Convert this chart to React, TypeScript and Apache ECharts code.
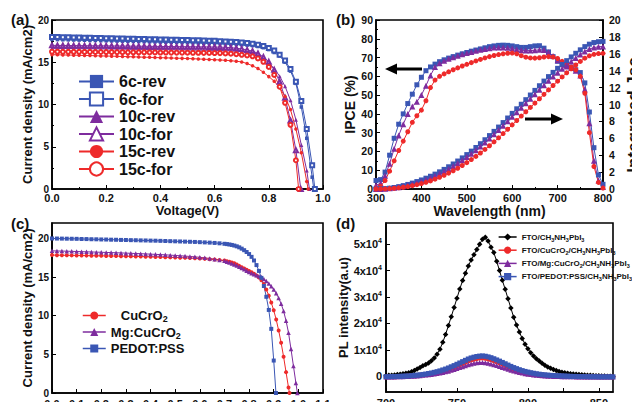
import React, { useEffect, useRef } from 'react';
import * as echarts from 'echarts';

const FONT = '"Liberation Sans", Arial, Helvetica, sans-serif';
const BLUE = '#3A56B4';
const PURPLE = '#7E2C9E';
const RED = '#EE2A2A';
const INK = '#111';

// ---------- (a) J-V, 6c / 10c / 15c ----------
const aNames = ['6c-rev', '6c-for', '10c-rev', '10c-for', '15c-rev', '15c-for'];
const vA = [0, 0.02, 0.04, 0.06, 0.08, 0.1, 0.12, 0.14, 0.16, 0.18, 0.2, 0.22, 0.24, 0.26, 0.28, 0.3, 0.32, 0.34, 0.36, 0.38,
  0.4, 0.42, 0.44, 0.46, 0.48, 0.5, 0.52, 0.54, 0.56, 0.58, 0.6, 0.62, 0.64, 0.66, 0.68, 0.7, 0.72, 0.74, 0.76, 0.78,
  0.8, 0.82, 0.84, 0.86, 0.88, 0.9, 0.92, 0.94, 0.96];
const j6cRev = [17.70, 17.68, 17.66, 17.65, 17.63, 17.62, 17.60, 17.58, 17.57, 17.55, 17.54, 17.52, 17.50, 17.49, 17.47, 17.46, 17.44, 17.43, 17.41, 17.40,
  17.38, 17.37, 17.35, 17.34, 17.32, 17.31, 17.29, 17.27, 17.25, 17.23, 17.21, 17.19, 17.16, 17.13, 17.10, 17.06, 17.02, 16.96, 16.86, 16.72,
  16.50, 16.15, 15.75, 15.00, 13.95, 12.50, 9.70, 6.00, 1.40];
const j6cFor = [18.00, 17.98, 17.97, 17.95, 17.94, 17.92, 17.91, 17.89, 17.88, 17.86, 17.85, 17.83, 17.82, 17.80, 17.79, 17.77, 17.76, 17.74, 17.73, 17.71,
  17.70, 17.68, 17.67, 17.65, 17.64, 17.62, 17.61, 17.59, 17.57, 17.55, 17.53, 17.50, 17.47, 17.44, 17.40, 17.35, 17.29, 17.20, 17.08, 16.92,
  16.70, 16.38, 15.90, 15.20, 14.20, 12.70, 10.40, 7.10, 2.80];
const j10cRev = [16.65, 16.64, 16.63, 16.63, 16.62, 16.61, 16.60, 16.60, 16.59, 16.58, 16.57, 16.57, 16.56, 16.55, 16.54, 16.53, 16.53, 16.52, 16.51, 16.50,
  16.49, 16.49, 16.48, 16.47, 16.46, 16.45, 16.44, 16.43, 16.42, 16.41, 16.40, 16.39, 16.37, 16.34, 16.30, 16.25, 16.18, 16.08, 15.85, 15.48,
  14.90, 14.25, 13.35, 12.15, 10.50, 8.20, 5.20, 2.20];
const j10cFor = [17.00, 16.99, 16.99, 16.98, 16.97, 16.97, 16.96, 16.95, 16.95, 16.94, 16.94, 16.93, 16.92, 16.92, 16.91, 16.90, 16.90, 16.89, 16.88, 16.88,
  16.87, 16.86, 16.86, 16.85, 16.84, 16.84, 16.83, 16.82, 16.82, 16.81, 16.80, 16.79, 16.76, 16.72, 16.66, 16.58, 16.46, 16.32, 16.05, 15.62,
  15.05, 14.10, 12.70, 10.80, 8.10, 4.60];
const j15cRev = [15.90, 15.88, 15.87, 15.85, 15.84, 15.82, 15.80, 15.79, 15.77, 15.75, 15.74, 15.72, 15.70, 15.68, 15.66, 15.64, 15.62, 15.60, 15.58, 15.56,
  15.54, 15.52, 15.50, 15.48, 15.46, 15.44, 15.42, 15.39, 15.36, 15.33, 15.30, 15.27, 15.23, 15.18, 15.12, 15.04, 14.85, 14.58, 14.25, 13.82,
  13.30, 12.75, 12.00, 10.95, 9.40, 7.10, 4.30, 0.90];
const j15cFor = [16.25, 16.25, 16.24, 16.24, 16.23, 16.23, 16.22, 16.22, 16.21, 16.21, 16.20, 16.20, 16.19, 16.19, 16.18, 16.18, 16.17, 16.17, 16.16, 16.16,
  16.15, 16.15, 16.14, 16.14, 16.13, 16.13, 16.12, 16.12, 16.11, 16.10, 16.09, 16.08, 16.05, 16.01, 15.95, 15.88, 15.80, 15.70, 15.45, 15.05,
  14.45, 13.50, 12.10, 10.20, 7.60, 3.40];
const vocA = [0.966, 0.970, 0.950, 0.918, 0.945, 0.910];

// ---------- (b) IPCE & integrated Jsc ----------
const wlB = [300, 310, 320, 330, 340, 350, 360, 370, 380, 390, 400, 410, 420, 430, 440, 450, 460, 470, 480, 490,
  500, 510, 520, 530, 540, 550, 560, 570, 580, 590, 600, 610, 620, 630, 640, 650, 660, 670, 680, 690,
  700, 710, 720, 730, 740, 750, 760, 770, 780, 790, 800];
const ipceBlue = [4.5, 5, 9, 18, 27, 34.5, 40, 45.5, 50.5, 55.5, 59.5, 63, 65, 66.5, 67.8, 68.8, 69.7, 70.5, 71.3, 72,
  72.7, 73.4, 74, 74.6, 75.2, 75.8, 76.2, 76.5, 76.6, 76.5, 76.2, 75.8, 75.4, 75.4, 75.8, 76.2, 76.3, 75, 73, 70.5,
  68, 66.5, 65.5, 64.8, 63.5, 62, 56.5, 41, 22, 7.5, 2.5];
const ipcePurple = [2, 3, 7, 13.5, 21.5, 28.5, 34.5, 40, 44, 46.5, 50, 55, 60.5, 65, 67, 68.3, 69.3, 70.2, 71, 71.7,
  72.4, 73, 73.6, 74.1, 74.6, 75, 75.3, 75.4, 75.4, 75.2, 74.8, 74.3, 73.9, 73.7, 73.7, 73.9, 74.1, 74, 72.8, 70.8,
  68.5, 66.5, 65.3, 64.5, 63, 60.5, 53, 35, 15, 4.5, 1];
const ipceRed = [0.5, 1.5, 4.5, 9.5, 15, 20.5, 25.5, 30.5, 35.5, 39, 42, 47, 54, 58, 60, 61.3, 62.4, 63.5, 64.5, 65.5,
  66.4, 67.3, 68.2, 69, 69.8, 70.5, 71.1, 71.6, 72, 72.3, 72.4, 72, 71, 70.2, 69.8, 69.7, 69.9, 70.3, 70.5, 70.3,
  69.5, 68, 66.5, 65, 63.5, 60, 51, 30, 12, 3.5, 0.5];
const jscBlue = [0.00, 0.02, 0.05, 0.10, 0.18, 0.28, 0.40, 0.54, 0.70, 0.88, 1.07, 1.28, 1.51, 1.76, 2.03, 2.32, 2.63, 2.96, 3.31, 3.68,
  4.07, 4.48, 4.91, 5.36, 5.83, 6.32, 6.82, 7.33, 7.86, 8.40, 8.95, 9.49, 10.03, 10.57, 11.12, 11.67, 12.22, 12.77, 13.30, 13.80,
  14.28, 14.74, 15.19, 15.63, 16.06, 16.47, 16.85, 17.14, 17.33, 17.43, 17.47];
const jscPurple = [0.00, 0.01, 0.04, 0.08, 0.14, 0.22, 0.32, 0.44, 0.58, 0.73, 0.90, 1.09, 1.30, 1.54, 1.80, 2.08, 2.38, 2.70, 3.04, 3.40,
  3.78, 4.18, 4.60, 5.04, 5.50, 5.98, 6.47, 6.97, 7.49, 8.02, 8.55, 9.08, 9.61, 10.14, 10.67, 11.21, 11.75, 12.29, 12.81, 13.30,
  13.77, 14.22, 14.66, 15.09, 15.51, 15.91, 16.28, 16.56, 16.74, 16.83, 16.87];
const jscRed = [0.00, 0.01, 0.02, 0.05, 0.09, 0.14, 0.21, 0.29, 0.39, 0.51, 0.64, 0.79, 0.96, 1.16, 1.38, 1.62, 1.88, 2.16, 2.46, 2.78,
  3.12, 3.48, 3.86, 4.26, 4.68, 5.12, 5.58, 6.06, 6.56, 7.07, 7.59, 8.11, 8.63, 9.14, 9.65, 10.16, 10.68, 11.20, 11.73, 12.25,
  12.76, 13.26, 13.75, 14.22, 14.67, 15.10, 15.48, 15.76, 15.94, 16.03, 16.06];

// ---------- (c) J-V, HTL comparison ----------
const cNames = ['CuCrO2', 'Mg:CuCrO2', 'PEDOT:PSS'];
const vC = [0, 0.02, 0.04, 0.06, 0.08, 0.1, 0.12, 0.14, 0.16, 0.18, 0.2, 0.22, 0.24, 0.26, 0.28, 0.3, 0.32, 0.34, 0.36, 0.38,
  0.4, 0.42, 0.44, 0.46, 0.48, 0.5, 0.52, 0.54, 0.56, 0.58, 0.6, 0.62, 0.64, 0.66, 0.68, 0.7,
  0.71, 0.72, 0.73, 0.74, 0.75, 0.76, 0.77, 0.78, 0.79, 0.8, 0.81, 0.82, 0.83, 0.84, 0.85, 0.86, 0.87, 0.88, 0.89, 0.9,
  0.91, 0.92, 0.93, 0.94, 0.95, 0.96, 0.97, 0.98, 0.99, 1.0];
const jCu = [17.85, 17.84, 17.83, 17.82, 17.81, 17.80, 17.79, 17.78, 17.77, 17.76, 17.75, 17.74, 17.73, 17.72, 17.71, 17.70, 17.68, 17.67, 17.66, 17.64,
  17.63, 17.61, 17.59, 17.57, 17.55, 17.53, 17.51, 17.49, 17.46, 17.43, 17.40, 17.36, 17.32, 17.27, 17.21, 17.14,
  17.05, 16.98, 16.89, 16.78, 16.63, 16.45, 16.28, 16.10, 15.95, 15.80, 15.62, 15.42, 15.20, 14.95, 14.60, 14.10, 13.40, 12.60, 11.70, 10.70,
  9.50, 8.10, 6.50, 4.70, 2.70, 0.70];
const jMg = [18.40, 18.38, 18.37, 18.35, 18.33, 18.31, 18.29, 18.27, 18.25, 18.23, 18.21, 18.19, 18.17, 18.15, 18.13, 18.10, 18.08, 18.05, 18.03, 18.00,
  17.97, 17.94, 17.91, 17.88, 17.84, 17.80, 17.76, 17.72, 17.67, 17.62, 17.56, 17.49, 17.41, 17.32, 17.22, 17.10,
  16.98, 16.88, 16.76, 16.64, 16.50, 16.35, 16.18, 16.00, 15.82, 15.65, 15.50, 15.37, 15.25, 15.12, 15.00, 14.76, 14.49, 14.18, 13.82, 13.40,
  12.90, 12.30, 11.55, 10.60, 9.35, 7.80, 5.70, 3.50, 1.30];
const jPedot = [20.00, 19.99, 19.98, 19.97, 19.96, 19.95, 19.93, 19.92, 19.90, 19.89, 19.87, 19.86, 19.84, 19.83, 19.81, 19.80, 19.78, 19.77, 19.75, 19.74,
  19.72, 19.71, 19.69, 19.67, 19.65, 19.63, 19.61, 19.59, 19.57, 19.55, 19.52, 19.49, 19.46, 19.42, 19.37, 19.31,
  19.27, 19.22, 19.16, 19.08, 18.98, 18.85, 18.68, 18.48, 18.25, 17.98, 17.62, 17.15, 16.55, 15.80, 14.90, 13.85, 12.45, 10.75, 8.30, 4.20];
const vocC = [0.964, 0.996, 0.909];

// ---------- (d) PL ----------
const dNames = ['FTO/CH3NH3PbI3', 'FTO/CuCrO2/CH3NH3PbI3', 'FTO/Mg:CuCrO2/CH3NH3PbI3', 'FTO/PEDOT:PSS/CH3NH3PbI3'];
const wlD = [700, 702, 704, 706, 708, 710, 712, 714, 716, 718, 720, 722, 724, 726, 728, 730, 732, 734, 736, 738,
  740, 742, 744, 746, 748, 750, 752, 754, 756, 758, 760, 762, 764, 766, 768, 770, 772, 774, 776, 778,
  780, 782, 784, 786, 788, 790, 792, 794, 796, 798, 800, 802, 804, 806, 808, 810, 812, 814, 816, 818,
  820, 822, 824, 826, 828, 830, 832, 834, 836, 838, 840, 842, 844, 846, 848, 850, 852, 854, 856, 858, 860];
const plBlack = [200, 300, 350, 450, 600, 750, 900, 1100, 1300, 1700, 2100, 2700, 3300, 3900, 4400, 5000, 5800, 6900, 8300, 10200,
  12800, 15800, 19200, 22500, 26000, 29500, 33000, 36200, 39000, 41700, 44000, 46000, 48000, 50000, 51800, 52600, 51200, 48800, 46800, 43500,
  40000, 36300, 32900, 29300, 25800, 22300, 19400, 16700, 14300, 12100, 10400, 8900, 7600, 6600, 5700, 4900, 4100, 3500, 3000, 2500,
  2100, 1800, 1500, 1300, 1100, 900, 800, 700, 600, 500, 400, 350, 300, 250, 200, 150, 100, 50, 0, -50, -100];
const plRed = [-300, -300, -250, -250, -200, -150, -100, -50, 50, 100, 200, 300, 400, 500, 650, 800, 1000, 1200, 1450, 1700,
  2000, 2300, 2650, 3050, 3450, 3900, 4350, 4800, 5250, 5700, 6100, 6400, 6650, 6800, 6850, 6750, 6500, 6200, 5800, 5400,
  5000, 4550, 4100, 3650, 3250, 2850, 2500, 2150, 1850, 1550, 1300, 1100, 900, 750, 600, 450, 350, 250, 200, 100,
  50, 0, -50, -100, -100, -150, -150, -200, -200, -200, -250, -250, -250, -250, -300, -300, -300, -300, -300, -300, -300];
const plPurple = [-350, -350, -300, -300, -250, -250, -200, -150, -100, -50, 0, 100, 200, 300, 400, 500, 650, 800, 1000, 1200,
  1400, 1650, 1900, 2200, 2550, 2900, 3250, 3600, 3950, 4300, 4600, 4850, 5050, 5150, 5200, 5100, 4900, 4650, 4350, 4000,
  3650, 3300, 2950, 2600, 2250, 1950, 1650, 1400, 1150, 950, 750, 600, 450, 350, 250, 150, 100, 0, -50, -100,
  -150, -150, -200, -200, -250, -250, -250, -300, -300, -300, -300, -300, -350, -350, -350, -350, -350, -350, -350, -350, -350];
const plBlue = [-200, -200, -150, -150, -100, -50, 0, 50, 100, 200, 300, 400, 500, 650, 800, 1000, 1200, 1450, 1700, 2000,
  2350, 2700, 3100, 3550, 4000, 4500, 5000, 5500, 6000, 6500, 6900, 7200, 7450, 7600, 7650, 7550, 7300, 7000, 6600, 6150,
  5700, 5200, 4700, 4200, 3700, 3250, 2850, 2450, 2100, 1800, 1550, 1300, 1100, 900, 750, 600, 500, 400, 300, 250,
  200, 150, 100, 50, 0, -50, -100, -100, -150, -150, -150, -200, -200, -200, -200, -250, -250, -250, -250, -250, -250];

// ---------- tick label lists ----------
const dXLabels = [700, 750, 800, 850];
const dXTicks = [700, 725, 750, 775, 800, 825, 850];
const dYLabels = [0, 10000, 20000, 30000, 40000, 50000];
const cYLabels = [0, 5, 10, 15, 20];

const jv = (v: number[], j: number[], voc: number) => [...j.map((y, i) => [v[i], y]), [voc, 0]];
const pairs = (x: number[], y: number[]) => y.map((v, i) => [x[i], v]);

const lbl = { color: INK, fontFamily: FONT, fontWeight: 'bold' as const };

function axisBase(extra: any = {}) {
  return {
    type: 'value',
    axisLine: { show: true, onZero: false, lineStyle: { color: '#000', width: 1.6 } },
    axisTick: { show: true, inside: true, length: 4, lineStyle: { color: '#000', width: 1 } },
    minorTick: { show: false },
    splitLine: { show: false },
    minorSplitLine: { show: false },
    axisLabel: { ...lbl, fontSize: 11, margin: 4 },
    nameTextStyle: { ...lbl, fontSize: 13 },
    ...extra,
  };
}

const minor = { show: true, splitNumber: 2, length: 2, lineStyle: { color: '#000', width: 1 } };

function lineSeries(name: string, xi: number, yi: number, data: any[], color: string, symbol: string, size: number, z = 2) {
  const empty = symbol.startsWith('empty');
  return {
    name, type: 'line', xAxisIndex: xi, yAxisIndex: yi, data, symbol, symbolSize: size,
    showAllSymbol: true, z, color,
    lineStyle: { width: 1, color },
    itemStyle: empty ? { color, borderColor: color, borderWidth: 1 } : { color },
    emphasis: { disabled: true },
  };
}

const subRich = (fs: number) => ({
  s: { fontSize: fs, fontWeight: 'bold', fontFamily: FONT, color: INK, verticalAlign: 'bottom' },
  pad: { width: 10 },
});

export default function App() {
  const ref = useRef<HTMLDivElement>(null);
  useEffect(() => {
    if (!ref.current) return;
    const chart = echarts.init(ref.current, null, { renderer: 'svg' });
    const gridBase = { show: true, borderColor: '#000', borderWidth: 1.6, backgroundColor: 'transparent', containLabel: false, outerBoundsMode: 'none' };
    const titleText = (text: string, x: number, y: number) => ({
      type: 'text', x, y, z: 10,
      style: { text, fontSize: 15, fontWeight: 'bold', fontFamily: FONT, fill: INK, align: 'left', verticalAlign: 'middle' },
    });
    const option: any = {
      animation: false,
      textStyle: { fontFamily: FONT },
      grid: [
        { ...gridBase, left: 52, top: 20, width: 271, height: 169 },
        { ...gridBase, left: 376, top: 20, width: 227, height: 169 },
        { ...gridBase, left: 52, top: 223, width: 271, height: 170 },
        { ...gridBase, left: 386, top: 223, width: 227, height: 169 },
      ],
      xAxis: [
        axisBase({ gridIndex: 0, min: 0, max: 1, interval: 0.2, minorTick: minor, name: 'Voltage(V)', nameLocation: 'middle', nameGap: 14,
          axisLabel: { ...lbl, fontSize: 11, margin: 3, formatter: (v: number) => v.toFixed(1) } }),
        axisBase({ gridIndex: 1, min: 300, max: 800, interval: 100, minorTick: minor, name: 'Wavelength (nm)', nameLocation: 'middle', nameGap: 13,
          nameTextStyle: { ...lbl, fontSize: 14 }, axisLabel: { ...lbl, fontSize: 11, margin: 3 } }),
        axisBase({ gridIndex: 2, min: 0, max: 1.1, interval: 0.1,
          axisLabel: { ...lbl, fontSize: 11, margin: 5, formatter: (v: number) => v.toFixed(1) } }),
        axisBase({ gridIndex: 3, min: 700, max: 860,
          axisLabel: { ...lbl, fontSize: 11, margin: 5, customValues: dXLabels },
          axisTick: { show: true, inside: true, length: 4, lineStyle: { color: '#000', width: 1 }, customValues: dXTicks } }),
      ],
      yAxis: [
        axisBase({ gridIndex: 0, min: 0, max: 20, interval: 5, minorTick: minor, name: 'Current density (mA/cm2)', nameLocation: 'middle', nameGap: 10,
          axisLabel: { ...lbl, fontSize: 10, margin: 3 } }),
        axisBase({ gridIndex: 1, min: 0, max: 90, interval: 10, minorTick: minor, name: 'IPCE (%)', nameLocation: 'middle', nameGap: 18,
          nameTextStyle: { ...lbl, fontSize: 14 }, axisLabel: { ...lbl, fontSize: 10.5, margin: 3 } }),
        axisBase({ gridIndex: 1, position: 'right', min: 0, max: 20, interval: 2,
          axisLabel: { ...lbl, fontSize: 10.5, margin: 6 } }),
        axisBase({ gridIndex: 2, min: 0, max: 22, name: 'Current density (mA/cm2)', nameLocation: 'middle', nameGap: 10,
          axisLabel: { ...lbl, fontSize: 10, margin: 3, customValues: cYLabels },
          axisTick: { show: true, inside: true, length: 4, lineStyle: { color: '#000', width: 1 }, customValues: cYLabels } }),
        axisBase({ gridIndex: 3, min: -6000, max: 58000, name: 'PL intensity(a.u)', nameLocation: 'middle', nameGap: 31,
          axisLabel: { ...lbl, fontSize: 11, margin: 4, lineHeight: 14, customValues: dYLabels,
            formatter: (v: number) => (v === 0 ? '0' : `${Math.round(v / 10000)}x10{sup|4}`),
            rich: { sup: { fontSize: 7, fontWeight: 'bold', fontFamily: FONT, color: INK, verticalAlign: 'top' } } },
          axisTick: { show: true, inside: true, length: 4, lineStyle: { color: '#000', width: 1 }, customValues: dYLabels } }),
      ],
      legend: [
        {
          data: aNames, orient: 'vertical', left: 78, top: 73.5, padding: 0,
          itemWidth: 35, itemHeight: 16.5, itemGap: 1.5, selectedMode: false,
          lineStyle: { width: 2 },
          textStyle: { ...lbl, fontSize: 16 },
        },
        {
          data: cNames, orient: 'vertical', left: 82, top: 307.5, padding: 0,
          itemWidth: 23, itemHeight: 10, itemGap: 0.5, selectedMode: false,
          lineStyle: { width: 1.5 },
          textStyle: { ...lbl, fontSize: 13, lineHeight: 16, rich: subRich(9) },
          formatter: (n: string) => (n === 'CuCrO2' ? '{pad| }CuCrO{s|2}' : n.replace(/(\d)/g, '{s|$1}')),
        },
        {
          data: dNames, orient: 'vertical', right: 0, top: 231.5, padding: 0, align: 'left',
          itemWidth: 18, itemHeight: 9, itemGap: 2.2, selectedMode: false,
          lineStyle: { width: 1.5 },
          textStyle: { ...lbl, fontSize: 8, lineHeight: 11, rich: subRich(5.5) },
          formatter: (n: string) => n.replace(/(\d)/g, '{s|$1}'),
        },
      ],
      series: [
        lineSeries(aNames[0], 0, 0, jv(vA, j6cRev, vocA[0]), BLUE, 'rect', 3.5),
        lineSeries(aNames[1], 0, 0, jv(vA, j6cFor, vocA[1]), BLUE, 'emptyRect', 4),
        lineSeries(aNames[2], 0, 0, jv(vA, j10cRev, vocA[2]), PURPLE, 'triangle', 4),
        lineSeries(aNames[3], 0, 0, jv(vA, j10cFor, vocA[3]), PURPLE, 'emptyTriangle', 4),
        lineSeries(aNames[4], 0, 0, jv(vA, j15cRev, vocA[4]), RED, 'circle', 3.5),
        lineSeries(aNames[5], 0, 0, jv(vA, j15cFor, vocA[5]), RED, 'emptyCircle', 4),

        lineSeries('IPCE PEDOT:PSS', 1, 1, pairs(wlB, ipceBlue), BLUE, 'rect', 5),
        lineSeries('IPCE Mg:CuCrO2', 1, 1, pairs(wlB, ipcePurple), PURPLE, 'triangle', 6),
        lineSeries('IPCE CuCrO2', 1, 1, pairs(wlB, ipceRed), RED, 'circle', 5),
        lineSeries('Jsc PEDOT:PSS', 1, 2, pairs(wlB, jscBlue), BLUE, 'rect', 5),
        lineSeries('Jsc Mg:CuCrO2', 1, 2, pairs(wlB, jscPurple), PURPLE, 'triangle', 6),
        lineSeries('Jsc CuCrO2', 1, 2, pairs(wlB, jscRed), RED, 'circle', 5),

        lineSeries(cNames[0], 2, 3, jv(vC, jCu, vocC[0]), RED, 'circle', 4),
        lineSeries(cNames[1], 2, 3, jv(vC, jMg, vocC[1]), PURPLE, 'triangle', 4.5),
        lineSeries(cNames[2], 2, 3, jv(vC, jPedot, vocC[2]), BLUE, 'rect', 4),

        lineSeries(dNames[0], 3, 4, pairs(wlD, plBlack), '#000', 'diamond', 5.5),
        lineSeries(dNames[1], 3, 4, pairs(wlD, plRed), RED, 'circle', 5),
        lineSeries(dNames[2], 3, 4, pairs(wlD, plPurple), PURPLE, 'triangle', 5),
        lineSeries(dNames[3], 3, 4, pairs(wlD, plBlue), BLUE, 'rect', 5),
      ],
      graphic: [
        titleText('(a)', 11, 19),
        titleText('(b)', 336, 19),
        titleText('(c)', 11, 223),
        titleText('(d)', 336, 223),
        {
          type: 'text', x: 633, y: 115, rotation: Math.PI / 2, z: 10,
          style: { text: 'Integrated Jsc', fontSize: 17, fontWeight: 'bold', fontFamily: FONT, fill: INK, align: 'center', verticalAlign: 'middle' },
        },
        { type: 'line', shape: { x1: 395, y1: 69, x2: 422, y2: 69 }, style: { stroke: '#000', lineWidth: 3 } },
        { type: 'polygon', shape: { points: [[385, 69], [397, 63.5], [397, 74.5]] }, style: { fill: '#000' } },
        { type: 'line', shape: { x1: 525, y1: 119, x2: 553, y2: 119 }, style: { stroke: '#000', lineWidth: 3 } },
        { type: 'polygon', shape: { points: [[563, 119], [551, 113.5], [551, 124.5]] }, style: { fill: '#000' } },
      ],
    };
    chart.setOption(option);
    return () => chart.dispose();
  }, []);
  return <div ref={ref} style={{ position: 'absolute', left: 0, top: 0, width: 632, height: 402, background: '#fff' }} />;
}
